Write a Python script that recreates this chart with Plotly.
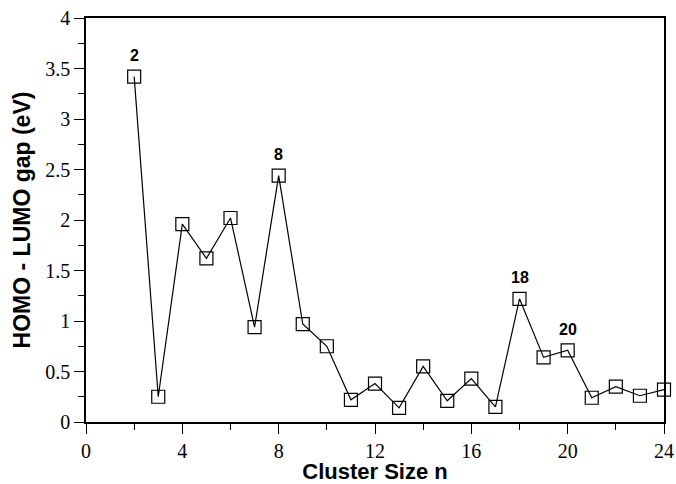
import plotly.graph_objects as go

cluster_size = [2, 3, 4, 5, 6, 7, 8, 9, 10, 11, 12, 13, 14, 15, 16, 17, 18, 19, 20, 21, 22, 23, 24]
gap_ev = [3.42, 0.25, 1.96, 1.62, 2.02, 0.94, 2.44, 0.97, 0.75, 0.22, 0.38, 0.14,
          0.55, 0.21, 0.43, 0.15, 1.22, 0.64, 0.71, 0.24, 0.35, 0.26, 0.32]
magic_n = [2, 8, 18, 20]
magic_labels = ["2", "8", "18", "20"]

fig = go.Figure()
fig.add_trace(go.Scatter(
    x=cluster_size, y=gap_ev, mode="lines+markers",
    line=dict(color="black", width=1.2),
    marker=dict(symbol="square-open", size=13, color="black", line=dict(width=1.2)),
    showlegend=False, cliponaxis=False,
))

for n, lab in zip(magic_n, magic_labels):
    fig.add_annotation(x=n, y=gap_ev[cluster_size.index(n)], text="<b>%s</b>" % lab,
                       showarrow=False, yshift=21,
                       font=dict(family="Liberation Sans, Arial, sans-serif", size=16, color="black"))

tickfont = dict(family="'Times New Roman', 'Liberation Serif', 'DejaVu Serif', serif", size=20, color="black")
titlefont = dict(family="Liberation Sans, Arial, sans-serif", size=22, color="black")

fig.update_layout(
    template="none",
    width=676, height=484,
    margin=dict(l=86, r=12, t=18, b=62, autoexpand=False),
    paper_bgcolor="white", plot_bgcolor="white",
    xaxis=dict(
        range=[0, 24], tickmode="linear", tick0=0, dtick=4, automargin=True,
        ticks="outside", ticklen=10, tickwidth=1.2, tickcolor="black",
        minor=dict(dtick=2, ticks="outside", ticklen=6, tickwidth=1.2, tickcolor="black"),
        showline=True, linecolor="black", linewidth=1.5, mirror=True,
        showgrid=False, zeroline=False, tickfont=tickfont,
        title=dict(text="<b>Cluster Size n</b>", font=titlefont, standoff=9),
    ),
    yaxis=dict(
        range=[0, 4], tickmode="linear", tick0=0, dtick=0.5, automargin=True,
        ticks="outside", ticklen=10, tickwidth=1.2, tickcolor="black",
        minor=dict(dtick=0.25, ticks="outside", ticklen=6, tickwidth=1.2, tickcolor="black"),
        showline=True, linecolor="black", linewidth=1.5, mirror=True,
        showgrid=False, zeroline=False, tickfont=tickfont,
        title=dict(text="<b>HOMO - LUMO gap (eV)</b>", font=dict(family="Liberation Sans, Arial, sans-serif", size=23, color="black"), standoff=8),
    ),
)

fig.write_html("out.html")
